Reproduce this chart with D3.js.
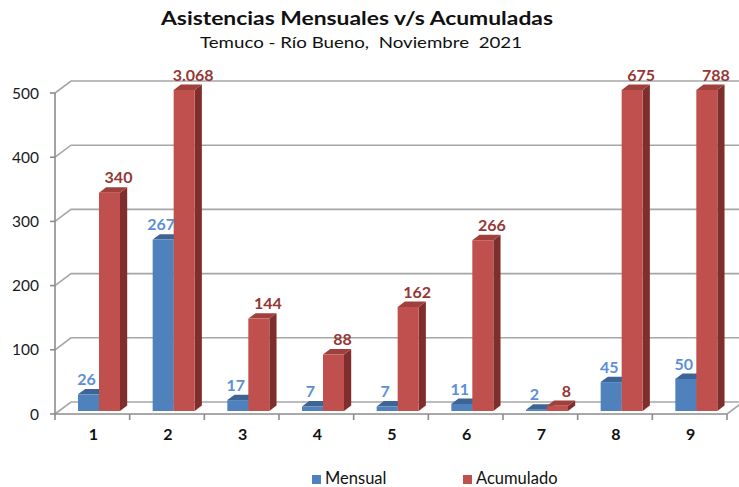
<!DOCTYPE html>
<html>
<head>
<meta charset="utf-8">
<script src="https://cdn.jsdelivr.net/npm/d3@7/dist/d3.min.js"></script>
<style>
  html, body { margin: 0; padding: 0; background: #fff; }
  svg { display: block; font-family: Lato, "Open Sans", sans-serif; }
  text { white-space: pre; }
</style>
</head>
<body>
<svg id="chart" width="739" height="487"></svg>
<script>
// --- datos ---
const categories = ['1', '2', '3', '4', '5', '6', '7', '8', '9'];
const mensual    = [26, 267, 17, 7, 7, 11, 2, 45, 50];
const acumulado  = [340, 3068, 144, 88, 162, 266, 8, 675, 788];
const yTicks     = [0, 100, 200, 300, 400, 500];
const seriesNames = ['Mensual', 'Acumulado'];

const title    = 'Asistencias Mensuales v/s Acumuladas';
const subtitle = 'Temuco - Río Bueno,  Noviembre  2021';

// --- estilo ---
const colors = {
  Mensual:   { front: '#4f81bd', top: '#3c6595', side: '#2f5583', label: '#5b8fd6' },
  Acumulado: { front: '#c0504d', top: '#a0403d', side: '#7e2f2d', label: '#953735' }
};
const gridColor = '#a6a6a6';

// formato con punto de miles (3.068)
const fmt = d3.formatLocale({ decimal: ',', thousands: '.', grouping: [3], currency: ['$', ''] }).format(',d');

const svg = d3.select('#chart');

// caja 3D: plano frontal + profundidad
const dx = 16, dy = -12;
const x = d3.scaleBand().domain(categories).range([55, 727]);
const y = d3.scaleLinear().domain([0, 500]).range([414, 93]).clamp(true);
// posición de las series dentro de cada categoría (plano frontal)
const xs = d3.scaleBand().domain(seriesNames).range([19, 61]);
const barOff = { x: dx * 0.25, y: dy * 0.25 };
const barDepth = { x: dx * 0.45, y: dy * 0.45 };

// títulos
svg.append('text')
  .attr('x', 357).attr('y', 25)
  .attr('text-anchor', 'middle')
  .attr('font-size', 19).attr('font-weight', 'bold')
  .attr('fill', '#111')
  .attr('textLength', 392).attr('lengthAdjust', 'spacingAndGlyphs')
  .text(title);

svg.append('text')
  .attr('x', 361).attr('y', 48)
  .attr('text-anchor', 'middle')
  .attr('font-size', 15)
  .attr('fill', '#111')
  .attr('textLength', 322).attr('lengthAdjust', 'spacingAndGlyphs')
  .text(subtitle);

// líneas de cuadrícula: pared izquierda (diagonal) + pared del fondo
const xL = x.range()[0], xR = x.range()[1];
const grid = svg.append('g')
  .attr('stroke', gridColor).attr('stroke-width', 1.6).attr('fill', 'none');
grid.selectAll('path').data(yTicks).join('path')
  .attr('d', t => `M${xL},${y(t)} L${xL + dx},${y(t) + dy} L${xR + dx + 20},${y(t) + dy}`);

// borde derecho del piso
grid.append('path')
  .attr('d', `M${xR},${y(0)} L${xR + dx},${y(0) + dy}`);

// eje Y
const axis = svg.append('g').attr('stroke', '#8c8c8c').attr('stroke-width', 1.6);
axis.append('line')
  .attr('x1', xL).attr('x2', xL).attr('y1', y(500)).attr('y2', y(0));
axis.selectAll('.ytick').data(yTicks).join('line')
  .attr('x1', xL - 5).attr('x2', xL).attr('y1', d => y(d)).attr('y2', d => y(d));

// eje X
axis.append('line')
  .attr('x1', xL).attr('x2', xR).attr('y1', y(0)).attr('y2', y(0));
axis.selectAll('.xtick').data(d3.range(categories.length + 1)).join('line')
  .attr('x1', i => xL + i * x.bandwidth()).attr('x2', i => xL + i * x.bandwidth())
  .attr('y1', y(0)).attr('y2', y(0) + 6);

svg.append('g').selectAll('text').data(yTicks).join('text')
  .attr('x', 39).attr('y', d => y(d))
  .attr('dy', '0.36em')
  .attr('text-anchor', 'end')
  .attr('font-size', 15.5).attr('fill', '#1a1a1a')
  .text(d => d);

svg.append('g').selectAll('text').data(categories).join('text')
  .attr('x', d => x(d) + x.bandwidth() / 2 + 1)
  .attr('y', 440)
  .attr('text-anchor', 'middle')
  .attr('font-size', 16).attr('font-weight', 'bold').attr('fill', '#111')
  .text(d => d);

// barras 3D
const bars = [];
categories.forEach((c, i) => {
  bars.push({ cat: c, series: 'Mensual', value: mensual[i] });
  bars.push({ cat: c, series: 'Acumulado', value: acumulado[i] });
});

function geom(d) {
  const x0 = x(d.cat) + xs(d.series) + barOff.x;
  const x1 = x0 + xs.bandwidth();
  const yb = y(0) + barOff.y;
  const yt = y(d.value) + barOff.y;
  return { x0, x1, yb, yt };
}

const gBars = svg.append('g');
bars.forEach(d => {
  const g = geom(d), c = colors[d.series];
  const bx = barDepth.x, by = barDepth.y;
  const b = gBars.append('g');
  // cara lateral
  b.append('path')
    .attr('d', `M${g.x1},${g.yb} L${g.x1 + bx},${g.yb + by} L${g.x1 + bx},${g.yt + by} L${g.x1},${g.yt} Z`)
    .attr('fill', c.side);
  // cara superior
  b.append('path')
    .attr('d', `M${g.x0},${g.yt} L${g.x0 + bx},${g.yt + by} L${g.x1 + bx},${g.yt + by} L${g.x1},${g.yt} Z`)
    .attr('fill', c.top);
  // cara frontal
  b.append('rect')
    .attr('x', g.x0).attr('y', g.yt)
    .attr('width', g.x1 - g.x0).attr('height', g.yb - g.yt)
    .attr('fill', c.front);
});

// etiquetas de valor
svg.append('g').selectAll('text').data(bars).join('text')
  .attr('x', d => { const g = geom(d); return (g.x0 + g.x1) / 2 + (d.series === 'Acumulado' ? 9 : -2); })
  .attr('y', d => geom(d).yt - 15)
  .attr('dy', '0.36em')
  .attr('text-anchor', 'middle')
  .attr('font-size', 16).attr('font-weight', 'bold')
  .attr('fill', d => colors[d.series].label)
  .text(d => fmt(d.value));

// leyenda
const legend = svg.append('g');
const legendX = [312, 463];
seriesNames.forEach((s, i) => {
  legend.append('rect')
    .attr('x', legendX[i]).attr('y', 475)
    .attr('width', 9).attr('height', 9)
    .attr('fill', colors[s].front);
  legend.append('text')
    .attr('x', legendX[i] + 13).attr('y', 484)
    .attr('font-size', 16.5).attr('fill', '#111')
    .text(s);
});
</script>
</body>
</html>
